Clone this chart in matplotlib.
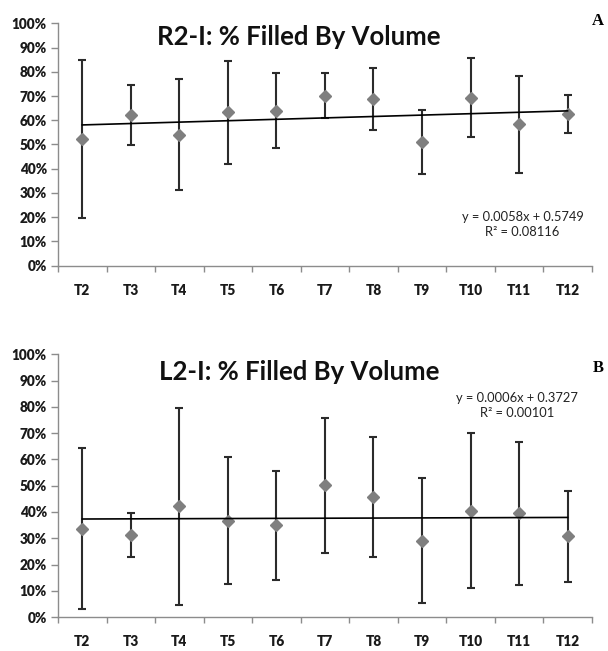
import numpy as np
import matplotlib
matplotlib.use("Agg")
import matplotlib.pyplot as plt
from matplotlib.ticker import PercentFormatter, FixedLocator

# Categories (thoracic levels)
levels = ["T2", "T3", "T4", "T5", "T6", "T7", "T8", "T9", "T10", "T11", "T12"]

# R2-I: mean fill and standard deviation (fraction)
r2_mean = [0.521, 0.622, 0.541, 0.633, 0.640, 0.702, 0.689, 0.512, 0.693, 0.583, 0.627]
r2_sd = [0.326, 0.125, 0.228, 0.212, 0.154, 0.092, 0.128, 0.132, 0.164, 0.200, 0.079]
r2_fit = (0.0058, 0.5749)
r2_r2 = 0.08116

# L2-I: mean fill and standard deviation (fraction)
l2_mean = [0.337, 0.313, 0.422, 0.367, 0.349, 0.501, 0.457, 0.291, 0.405, 0.395, 0.307]
l2_sd = [0.305, 0.085, 0.376, 0.241, 0.208, 0.257, 0.229, 0.238, 0.295, 0.273, 0.173]
l2_fit = (0.0006, 0.3727)
l2_r2 = 0.00101

fig = plt.figure(figsize=(6.08, 6.51), dpi=100)
ax_a = fig.add_axes([0.0954, 0.5919, 0.878, 0.3723])
ax_b = fig.add_axes([0.0954, 0.0522, 0.878, 0.4033])

font = "Lato"
gray = "#8c8c8c"


def draw(ax, mean, sd, fit, r2, title, title_y, eq_xy):
    x = np.arange(1, len(levels) + 1)
    ax.errorbar(x, mean, yerr=sd, fmt="none", ecolor="#2b2b2b", elinewidth=1.5,
                capsize=3, capthick=1.5, zorder=2)
    ax.plot(x, mean, linestyle="none", marker="D", markersize=6.5,
            color="#7f7f7f", zorder=3)
    slope, icpt = fit
    ax.plot([x[0], x[-1]], [slope * x[0] + icpt, slope * x[-1] + icpt],
            color="black", linewidth=1.2, zorder=4)

    ax.set_xlim(0.5, len(levels) + 0.5)
    ax.set_ylim(0, 1)
    ax.yaxis.set_major_locator(FixedLocator(np.linspace(0, 1, 11)))
    ax.yaxis.set_major_formatter(PercentFormatter(1.0, decimals=0))
    ax.set_xticks(x)
    ax.set_xticklabels(levels)
    ax.xaxis.set_minor_locator(FixedLocator(np.arange(0.5, len(levels) + 1.5, 1)))
    ax.tick_params(axis="x", which="major", length=0, pad=13)
    ax.tick_params(axis="x", which="minor", length=4, color=gray, width=1)
    ax.tick_params(axis="y", length=5, color=gray, width=1, pad=3)
    for lab in ax.get_xticklabels() + ax.get_yticklabels():
        lab.set_fontfamily(font)
        lab.set_fontweight("heavy")
        lab.set_fontsize(9.8)
        lab.set_color("#1a1a1a")
    for s in ["top", "right"]:
        ax.spines[s].set_visible(False)
    for s in ["left", "bottom"]:
        ax.spines[s].set_color(gray)
        ax.spines[s].set_linewidth(1)

    ax.text(0.451, title_y, title, transform=ax.transAxes, ha="center",
            va="baseline", fontfamily=font, fontweight="bold", fontsize=18.5,
            color="#111111")
    ex, ey = eq_xy
    ax.text(ex, ey, "y = %.4fx + %.4f\nR² = %s" % (slope, icpt, str(r2)),
            transform=ax.transAxes, ha="center", va="center", fontfamily=font,
            fontsize=9.3, color="#222222", linespacing=1.35)


draw(ax_a, r2_mean, r2_sd, r2_fit, r2_r2, "R2-I: % Filled By Volume", 0.91,
     (0.87, 0.17))
draw(ax_b, l2_mean, l2_sd, l2_fit, l2_r2, "L2-I: % Filled By Volume", 0.903,
     (0.86, 0.805))

fig.text(0.984, 0.968, "A", ha="center", va="center", fontfamily="Liberation Serif",
         fontweight="bold", fontsize=12)
fig.text(0.984, 0.435, "B", ha="center", va="center", fontfamily="Liberation Serif",
         fontweight="bold", fontsize=12)

fig.savefig("out.png", dpi=100, facecolor="white")
